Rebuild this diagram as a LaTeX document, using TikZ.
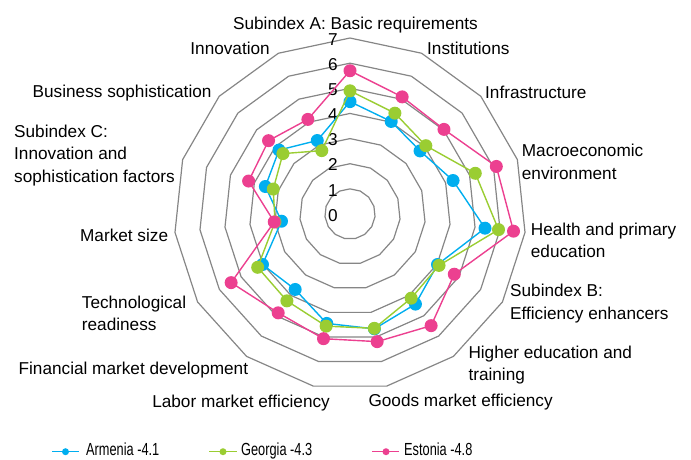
\documentclass[tikz,border=0pt]{standalone}
\usepackage{fontspec}
\setmainfont{Liberation Sans}
\newfontfamily\legfont[FakeStretch=0.73]{Liberation Sans}
\definecolor{cblue}{RGB}{0,174,239}
\definecolor{cgreen}{RGB}{154,205,50}
\definecolor{cpink}{RGB}{236,64,144}
\definecolor{cgray}{RGB}{134,134,134}
\begin{document}
\begin{tikzpicture}[x=1pt,y=-1pt,
  ring/.style={draw=cgray,line width=1.2pt,line join=miter},
  serie/.style={line width=1.4pt,line join=round},
  dot/.style={circle,inner sep=0pt,minimum size=13pt,draw=none},
  ldot/.style={circle,inner sep=0pt,minimum size=7pt,draw=none},
  lbl/.style={font=\fontsize{17.2}{22.5}\selectfont,inner sep=0pt,align=left},
  rlbl/.style={font=\fontsize{17.2}{22.5}\selectfont,inner sep=0pt,align=right},
  leg/.style={inner sep=0pt,anchor=base west,font=\legfont\fontsize{17.5}{21}\selectfont}]
\useasboundingbox (0,0) rectangle (691,459);
\def\cx{350}\def\cy{214}\def\u{25.14}
\coordinate (C) at (\cx,\cy);
% rings
\foreach \k in {1,...,7}{
  \draw[ring] ({\cx+\k*\u*cos(90)},{\cy-\k*\u*sin(90)})
    \foreach \i in {1,...,14}{ -- ({\cx+\k*\u*cos(90-24*\i)},{\cy-\k*\u*sin(90-24*\i)}) } -- cycle;
}
% ring values
\foreach \k in {0,...,7}{
  \node[lbl,anchor=east] (v\k) at (338,{215-\k*\u+1.7}) {\strut\k};
}
% series
\foreach \s/\col/\vals in {
  A/cblue/{4.47,4.03,3.75,4.31,5.40,4.02,4.43,4.67,4.45,3.71,4.02,2.74,3.54,3.80,3.20},
  G/cgreen/{4.90,4.39,4.06,5.24,5.94,4.09,4.14,4.65,4.56,4.27,4.24,3.00,3.21,3.59,2.76},
  E/cpink/{5.70,5.10,5.03,6.12,6.54,4.79,5.49,5.19,5.07,4.86,5.46,3.03,4.24,4.36,4.12}}{
  \foreach \v [count=\i from 0] in \vals {
    \coordinate (\s\i) at ({\cx+\v*\u*cos(90-24*\i)},{\cy-\v*\u*sin(90-24*\i)});
  }
  \draw[serie,draw=\col] (\s0) \foreach \i in {1,...,14}{ -- (\s\i)} -- cycle;
  \foreach \i in {0,...,14}{ \node[dot,fill=\col] (m\s\i) at (\s\i) {}; }
}
% axis labels
\node[lbl,anchor=center] (l0) at (355.5,24.7) {\strut Subindex A: Basic requirements};
\node[lbl,anchor=west] (l1) at (427,49.7) {\strut Institutions};
\node[lbl,anchor=west] (l2) at (485,93.7) {\strut Infrastructure};
\node[lbl,anchor=west] (l3) at (521.7,163.7) {\strut Macroeconomic\\\strut environment};
\node[lbl,anchor=west] (l4) at (530.7,242) {\strut Health and primary\\\strut education};
\node[lbl,anchor=west] (l5) at (510,303.7) {\strut Subindex B:\\\strut Efficiency enhancers};
\node[lbl,anchor=west] (l6) at (468.3,365) {\strut Higher education and\\\strut training};
\node[lbl,anchor=west] (l7) at (368.3,402.4) {\strut Goods market efficiency};
\node[rlbl,anchor=east] (l8) at (330,403.4) {\strut Labor market efficiency};
\node[rlbl,anchor=east] (l9) at (248.3,370) {\strut Financial market development};
\node[lbl,anchor=west] (l10) at (81.7,315) {\strut Technological\\\strut readiness};
\node[rlbl,anchor=east] (l11) at (168.3,236.7) {\strut Market size};
\node[lbl,anchor=west] (l12) at (14,155) {\strut Subindex C:\\\strut Innovation and\\\strut sophistication factors};
\node[rlbl,anchor=east] (l13) at (211.7,93.4) {\strut Business sophistication};
\node[rlbl,anchor=east] (l14) at (270,49.7) {\strut Innovation};
% legend
\coordinate (b1) at (52,451.7); \coordinate (b2) at (79,451.7);
\coordinate (g1) at (209,451.7); \coordinate (g2) at (237,451.7);
\coordinate (p1) at (372,451.7); \coordinate (p2) at (399,451.7);
\draw[serie,draw=cblue] (b1) -- (b2);
\draw[serie,draw=cgreen] (g1) -- (g2);
\draw[serie,draw=cpink] (p1) -- (p2);
\node[ldot,fill=cblue] (kb) at (65.5,451.7) {};
\node[ldot,fill=cgreen] (kg) at (223,451.7) {};
\node[ldot,fill=cpink] (kp) at (386,451.7) {};
\node[leg] (tb) at (86,455) {Armenia -4.1};
\node[leg] (tg) at (241,455) {Georgia -4.3};
\node[leg] (tp) at (404,455) {Estonia -4.8};
\end{tikzpicture}
\end{document}
